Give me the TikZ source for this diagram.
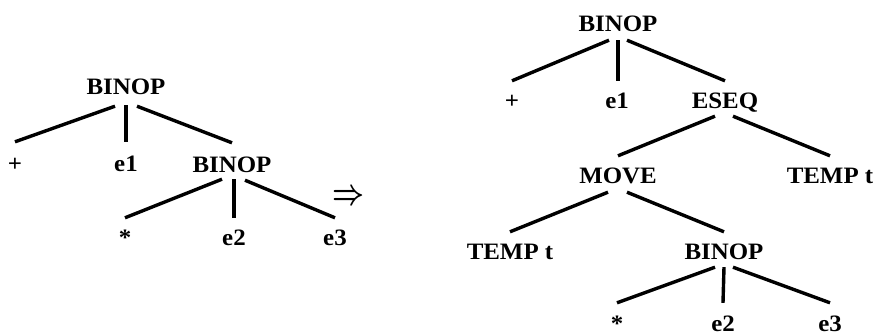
\documentclass[tikz,border=0pt]{standalone}
\usepackage{fontspec}
\setmainfont{Liberation Serif}[FakeStretch=1.06]
\begin{document}
\begin{tikzpicture}[x=1pt,y=-1pt,
  lbl/.style={inner sep=0pt, anchor=base, text height=15pt, text depth=0pt,
    font=\fontsize{23.5}{23.5}\selectfont\bfseries},
  edge/.style={line width=3.4pt}]
\useasboundingbox (0,0) rectangle (873,335);
% left tree
\node[lbl] (L1) at (126,94) {BINOP};
\node[lbl] (Lp) at (15,171) {+};
\node[lbl] (Le1) at (126,171) {e1};
\node[lbl] (L2) at (232,172) {BINOP};
\node[lbl] (Ls) at (125,245) {*};
\node[lbl] (Le2) at (234,245) {e2};
\node[lbl] (Le3) at (335,245) {e3};
\draw[edge] ([xshift=-11pt,yshift=-12pt]L1.south) -- ([yshift=14pt]Lp.north);
\draw[edge] ([yshift=-11pt]L1.south) -- ([yshift=14pt]Le1.north);
\draw[edge] ([xshift=11pt,yshift=-12pt]L1.south) -- ([yshift=14pt]L2.north);
\draw[edge] ([xshift=-10pt,yshift=-7pt]L2.south) -- ([yshift=12pt]Ls.north);
\draw[edge] ([xshift=2pt,yshift=-7pt]L2.south) -- ([yshift=12pt]Le2.north);
\draw[edge] ([xshift=13pt,yshift=-8pt]L2.south) -- ([yshift=12pt]Le3.north);
% arrow
\node[inner sep=0pt] (arr) at (349,197) {\resizebox{32pt}{14pt}{\boldmath$\Rightarrow$}};
% right tree
\node[lbl] (R1) at (618,31) {BINOP};
\node[lbl] (Rp) at (512,108) {+};
\node[lbl] (Re1) at (617,108) {e1};
\node[lbl] (Res) at (725,108) {ESEQ};
\node[lbl] (Rmv) at (618,183) {MOVE};
\node[lbl] (Rt1) at (830,183) {TEMP t};
\node[lbl] (Rt2) at (510,259) {TEMP t};
\node[lbl] (R2) at (724,259) {BINOP};
\node[lbl] (Rs) at (617,331) {*};
\node[lbl] (Re2) at (723,331) {e2};
\node[lbl] (Re3) at (830,331) {e3};
\draw[edge] ([xshift=-9pt,yshift=-9pt]R1.south) -- ([yshift=12pt]Rp.north);
\draw[edge] ([yshift=-9pt]R1.south) -- ([yshift=12pt]R1.south|-Re1.north);
\draw[edge] ([xshift=9pt,yshift=-9pt]R1.south) -- ([yshift=12pt]Res.north);
\draw[edge] ([xshift=-10pt,yshift=-8pt]Res.south) -- ([yshift=12pt]Rmv.north);
\draw[edge] ([xshift=8pt,yshift=-8pt]Res.south) -- ([yshift=12pt]Rt1.north);
\draw[edge] ([xshift=-10pt,yshift=-9pt]Rmv.south) -- ([yshift=12pt]Rt2.north);
\draw[edge] ([xshift=9pt,yshift=-9pt]Rmv.south) -- ([yshift=12pt]R2.north);
\draw[edge] ([xshift=-9pt,yshift=-8pt]R2.south) -- ([yshift=13pt]Rs.north);
\draw[edge] ([yshift=-8pt]R2.south) -- ([yshift=13pt]Re2.north);
\draw[edge] ([xshift=9pt,yshift=-8pt]R2.south) -- ([yshift=13pt]Re3.north);
\end{tikzpicture}
\end{document}
